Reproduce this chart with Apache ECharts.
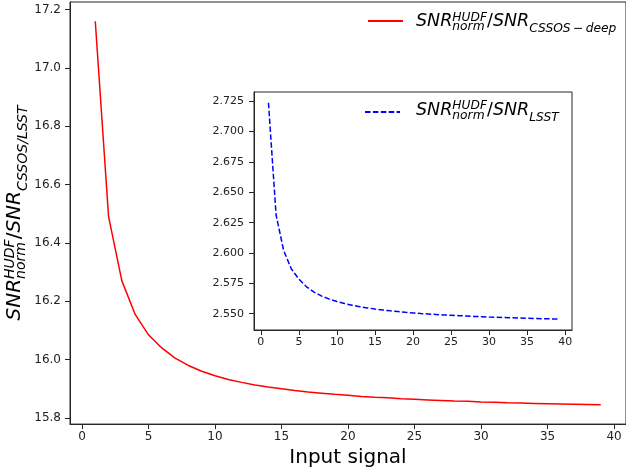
<!DOCTYPE html>
<html><head><meta charset="utf-8">
<script src="https://cdn.jsdelivr.net/npm/echarts@6/dist/echarts.min.js"></script>
<style>html,body{margin:0;padding:0;background:#fff}#c{width:626px;height:473px}</style>
</head><body><div id="c"></div>
<script>
// ---- data ----
const inputSignal = [1,2,3,4,5,6,7,8,9,10,11,12,13,14,15,16,17,18,19,20,21,22,23,24,25,26,27,28,29,30,31,32,33,34,35,36,37,38,39];
const ratioCSSOSdeep = [17.160,16.490,16.270,16.155,16.085,16.040,16.005,15.980,15.960,15.945,
  15.932,15.922,15.913,15.906,15.900,15.894,15.889,15.885,15.881,15.878,
  15.874,15.871,15.869,15.866,15.864,15.862,15.860,15.858,15.857,15.855,
  15.854,15.852,15.851,15.850,15.849,15.848,15.847,15.846,15.845];
const ratioLSST = [2.7237,2.6315,2.6020,2.5870,2.5785,2.5722,2.5678,2.5645,2.5620,2.5600,
  2.5584,2.5570,2.5558,2.5548,2.5539,2.5531,2.5524,2.5518,2.5512,2.5507,
  2.5502,2.5498,2.5494,2.5490,2.5487,2.5484,2.5481,2.5478,2.5476,2.5473,
  2.5471,2.5469,2.5467,2.5465,2.5463,2.5461,2.5459,2.5458,2.5456];
const mainXTicks = [0,5,10,15,20,25,30,35,40];
const mainYTicks = [15.8,16.0,16.2,16.4,16.6,16.8,17.0,17.2];
const insetXTicks = [0,5,10,15,20,25,30,35,40];
const insetYTicks = [2.550,2.575,2.600,2.625,2.650,2.675,2.700,2.725];
const xAxisTitle = 'Input signal';

// ---- math-like labels ----
const FONT = '"DejaVu Sans"';
const ctx = document.createElement('canvas').getContext('2d');
function tw(t, s, it){ ctx.font = (it ? 'italic ' : '') + s + 'px ' + FONT; return ctx.measureText(t).width; }
function mathParts(parts){
  let x = 0, lastStart = 0; const els = [];
  parts.forEach(p => {
    const px = p.stack ? lastStart : x;
    const w = tw(p.t, p.s, p.it);
    els.push({type:'text', x: px, y: p.dy - 0.346*p.s, silent:true,
      style:{text:p.t, font:(p.it?'italic ':'') + p.s + 'px ' + FONT, fill:'#000', align:'left', verticalAlign:'middle'}});
    if (p.stack) { x = Math.max(x, px + w); } else { lastStart = px; x = px + w; }
  });
  return {els, width:x};
}
function snrParts(S, s, sub, supDy, normDy, subDy){
  return [
    {t:'SNR', s:S, dy:0, it:true},
    {t:'HUDF', s:s, dy:supDy, it:true},
    {t:'norm', s:s, dy:normDy, it:true, stack:true},
    {t:'/', s:S, dy:0, it:false},
    {t:'SNR', s:S, dy:0, it:true},
    {t:sub, s:s, dy:subDy, it:true}
  ];
}
const legMain = mathParts(snrParts(17.5, 12.25, 'CSSOS\u2009\u2212\u2009deep', -6, 3.5, 5.6));
const legInset = mathParts(snrParts(17.5, 12.25, 'LSST', -6, 3.5, 5.6));
const yLab = mathParts(snrParts(20, 14, 'CSSOS/LSST', -7, 4, 6.4));

const chart = echarts.init(document.getElementById('c'), null, {renderer:'canvas'});
const axisCol = '#262626';
const legendCommon = {padding:0, itemWidth:35, itemHeight:14, formatter:()=>'', selectedMode:false,
  itemStyle:{opacity:0, borderWidth:0}, lineStyle:{opacity:1}};
const option = {
  animation:false,
  backgroundColor:'#fff',
  grid:[
    {left:70, top:2, right:-3, bottom:48, show:true, borderColor:axisCol, borderWidth:1, backgroundColor:'#fff'},
    {left:254, top:92, right:54, bottom:143, show:true, borderColor:axisCol, borderWidth:1, backgroundColor:'#fff'}
  ],
  xAxis:[
    {type:'value', gridIndex:0, min:-0.9, max:40.9,
     name:xAxisTitle, nameLocation:'middle', nameGap:21,
     nameTextStyle:{fontFamily:FONT, fontSize:20, color:'#000'},
     axisLine:{show:true, onZero:false, lineStyle:{color:axisCol, width:1}},
     axisTick:{show:true, length:5, customValues:mainXTicks, lineStyle:{color:axisCol}},
     axisLabel:{customValues:mainXTicks, margin:7, fontFamily:FONT, fontSize:12, color:'#222'},
     splitLine:{show:false}},
    {type:'value', gridIndex:1, min:-0.9, max:40.9,
     axisLine:{show:true, onZero:false, lineStyle:{color:axisCol, width:1}},
     axisTick:{show:true, length:5, customValues:insetXTicks, lineStyle:{color:axisCol}},
     axisLabel:{customValues:insetXTicks, margin:7, fontFamily:FONT, fontSize:11, color:'#222'},
     splitLine:{show:false}}
  ],
  yAxis:[
    {type:'value', gridIndex:0, min:15.779, max:17.226,
     axisLine:{show:true, onZero:false, lineStyle:{color:axisCol, width:1}},
     axisTick:{show:true, length:5, customValues:mainYTicks, lineStyle:{color:axisCol}},
     axisLabel:{customValues:mainYTicks, margin:9, fontFamily:FONT, fontSize:12, color:'#222', formatter:v=>v.toFixed(1)},
     splitLine:{show:false}},
    {type:'value', gridIndex:1, min:2.5366, max:2.7326,
     axisLine:{show:true, onZero:false, lineStyle:{color:axisCol, width:1}},
     axisTick:{show:true, length:5, customValues:insetYTicks, lineStyle:{color:axisCol}},
     axisLabel:{customValues:insetYTicks, margin:10, fontFamily:FONT, fontSize:11, color:'#222', formatter:v=>v.toFixed(3)},
     splitLine:{show:false}}
  ],
  legend:[
    Object.assign({data:['cssos'], left:367, top:14}, legendCommon),
    Object.assign({data:['lsst'], left:364, top:105}, legendCommon)
  ],
  series:[
    {name:'cssos', type:'line', xAxisIndex:0, yAxisIndex:0, symbol:'none', showSymbol:false,
     lineStyle:{color:'#ff0000', width:1.5}, itemStyle:{color:'#ff0000'},
     data: inputSignal.map((x,i)=>[x, ratioCSSOSdeep[i]])},
    {name:'lsst', type:'line', xAxisIndex:1, yAxisIndex:1, symbol:'none', showSymbol:false,
     lineStyle:{color:'#0000ff', width:1.5, type:[5.5,2.4]}, itemStyle:{color:'#0000ff'},
     data: inputSignal.map((x,i)=>[x, ratioLSST[i]])}
  ],
  graphic:[
    {type:'group', x:416, y:27.7, children:legMain.els},
    {type:'group', x:416, y:116.3, children:legInset.els},
    {type:'group', x:22, y:213 + yLab.width/2, rotation:Math.PI/2, children:yLab.els}
  ]
};
chart.setOption(option);
</script>
</body></html>
